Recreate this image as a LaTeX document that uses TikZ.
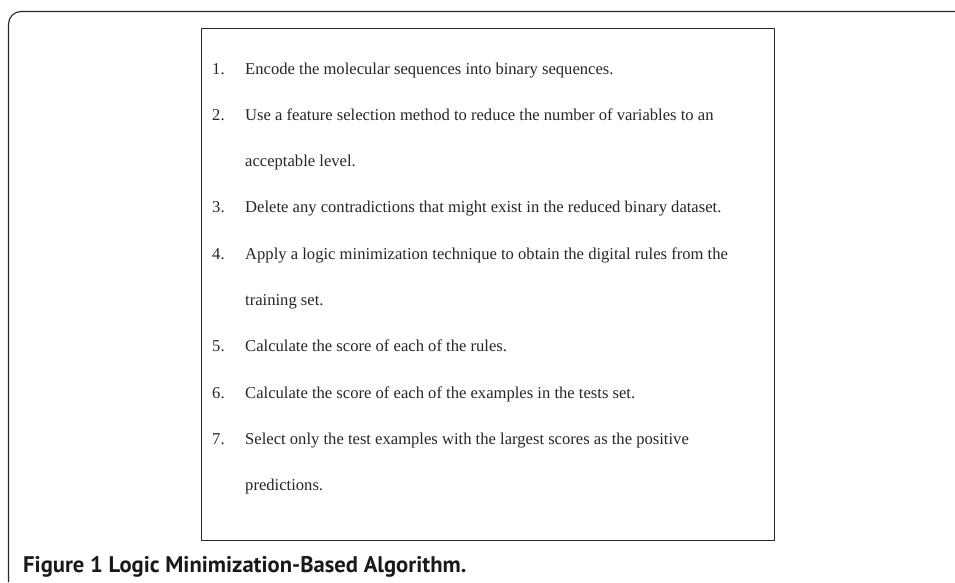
\documentclass[tikz,border=0pt]{standalone}
\usepackage{fontspec}
\setmainfont{Liberation Serif}
\newfontfamily\capfont{PT Sans}
\begin{document}
\begin{tikzpicture}[x=1pt,y=-1pt,
  frame/.style={draw=black!85,line width=1.1pt,rounded corners=12.5pt},
  listbox/.style={draw=black!85,line width=0.9pt},
  num/.style={anchor=base west,inner sep=0pt,font=\fontsize{16.6}{19}\selectfont,text=black!85},
  txt/.style={anchor=base west,inner sep=0pt,font=\fontsize{16.6}{19}\selectfont,text=black!85},
  captext/.style={anchor=base west,inner sep=0pt,font=\capfont\bfseries\fontsize{22.6}{26}\selectfont,text=black!90}]
\useasboundingbox (0,0) rectangle (955,582);
\draw[frame] (8.5,582) -- (8.5,11.5) -- (955,11.5);
\draw[listbox] (201,28) rectangle (774,540);
\def\nx{212}\def\tx{245}
\node[num] (n1) at (\nx,74) {1.};
\node[txt] (t1) at (\tx,74) {Encode the molecular sequences into binary sequences.};
\node[num] (n2) at (\nx,120.3) {2.};
\node[txt] (t2) at (\tx,120.3) {Use a feature selection method to reduce the number of variables to an};
\node[txt] (t2b) at (\tx,166.6) {acceptable level.};
\node[num] (n3) at (\nx,212.9) {3.};
\node[txt] (t3) at (\tx,212.9) {Delete any contradictions that might exist in the reduced binary dataset.};
\node[num] (n4) at (\nx,259.2) {4.};
\node[txt] (t4) at (\tx,259.2) {Apply a logic minimization technique to obtain the digital rules from the};
\node[txt] (t4b) at (\tx,305.5) {training set.};
\node[num] (n5) at (\nx,351.8) {5.};
\node[txt] (t5) at (\tx,351.8) {Calculate the score of each of the rules.};
\node[num] (n6) at (\nx,398.1) {6.};
\node[txt] (t6) at (\tx,398.1) {Calculate the score of each of the examples in the tests set.};
\node[num] (n7) at (\nx,444.4) {7.};
\node[txt] (t7) at (\tx,444.4) {Select only the test examples with the largest scores as the positive};
\node[txt] (t7b) at (\tx,490.7) {predictions.};
\node[captext] (c) at (23,572) {Figure 1 Logic Minimization-Based Algorithm.};
\end{tikzpicture}
\end{document}
